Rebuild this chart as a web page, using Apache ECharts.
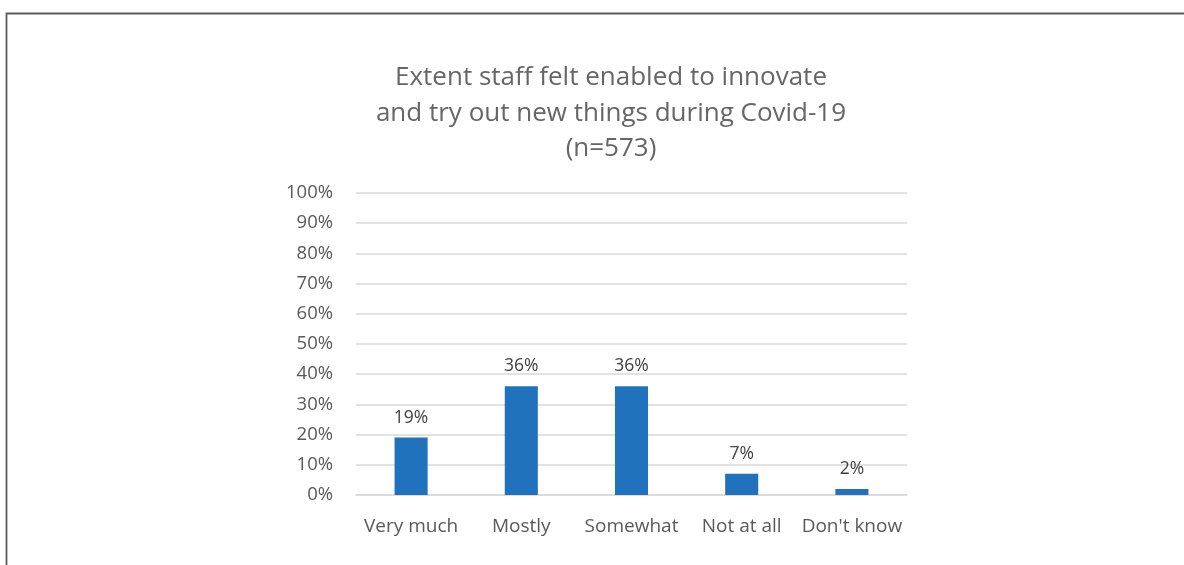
<!DOCTYPE html>
<html>
<head>
<meta charset="utf-8">
<script src="https://cdn.jsdelivr.net/npm/echarts@6/dist/echarts.min.js"></script>
<style>
  html, body { margin: 0; padding: 0; background: #fff; }
  #chart { width: 1184px; height: 565px; }
</style>
</head>
<body>
<div id="chart"></div>
<script>
// Survey responses: share of staff (percent)
const categories = ['Very much', 'Mostly', 'Somewhat', 'Not at all', "Don't know"];
const shares = [19, 36, 36, 7, 2];
const tickValues = [0, 10, 20, 30, 40, 50, 60, 70, 80, 90, 100];
const titleLines = [
  'Extent staff felt enabled to innovate',
  'and try out new things during Covid-19',
  '(n=573)'
];

const FONT = '"Open Sans", "Noto Sans", sans-serif';
const chart = echarts.init(document.getElementById('chart'), null, { renderer: 'canvas' });

chart.setOption({
  backgroundColor: '#ffffff',
  animation: false,
  title: {
    text: titleLines.join('\n'),
    left: 606,
    top: 55,
    textAlign: 'center',
    textStyle: {
      fontFamily: FONT,
      fontWeight: 'normal',
      fontSize: 26,
      lineHeight: 35.5,
      color: '#666666'
    }
  },
  graphic: [{
    type: 'rect',
    shape: { x: 6.5, y: 13.5, width: 1200, height: 600 },
    style: { fill: 'none', stroke: '#5a5a5a', lineWidth: 1.8 },
    silent: true
  }],
  grid: { left: 356, right: 277, top: 193, bottom: 70, containLabel: false },
  xAxis: {
    type: 'category',
    data: categories,
    axisLine: { show: true, lineStyle: { color: '#d9d9d9', width: 1.5 } },
    axisTick: { show: false },
    axisLabel: {
      interval: 0,
      fontFamily: FONT,
      fontSize: 19,
      color: '#595959',
      margin: 22
    }
  },
  yAxis: {
    type: 'value',
    min: tickValues[0],
    max: tickValues[tickValues.length - 1],
    interval: 10,
    axisLine: { show: false },
    axisTick: { show: false },
    splitLine: { lineStyle: { color: '#d9d9d9', width: 1.5 } },
    axisLabel: {
      fontFamily: FONT,
      fontSize: 18.5,
      color: '#595959',
      margin: 23,
      formatter: v => v + '%'
    }
  },
  series: [{
    type: 'bar',
    data: shares,
    barWidth: '30%',
    itemStyle: { color: '#1f72bb' },
    label: {
      show: true,
      position: 'top',
      distance: 11,
      fontFamily: FONT,
      fontSize: 17.5,
      color: '#404040',
      formatter: p => p.value + '%'
    }
  }]
});
</script>
</body>
</html>
